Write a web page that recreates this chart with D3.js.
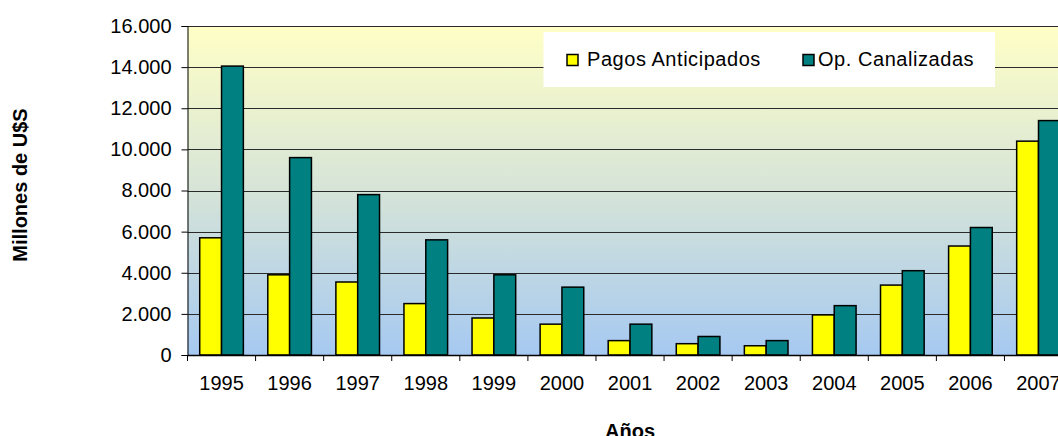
<!DOCTYPE html>
<html>
<head>
<meta charset="utf-8">
<script src="https://cdn.jsdelivr.net/npm/d3@7"></script>
<style>
  body { margin: 0; background: #fff; }
  svg { display: block; font-family: Arial, "Liberation Sans", sans-serif; }
</style>
</head>
<body>
<div id="chart"></div>
<script>
var years = ['1995', '1996', '1997', '1998', '1999', '2000', '2001', '2002', '2003', '2004', '2005', '2006', '2007'];
var pagosAnticipados = [5700, 3900, 3550, 2500, 1800, 1500, 700, 550, 450, 1950, 3400, 5300, 10400];
var opCanalizadas = [14050, 9600, 7800, 5600, 3900, 3300, 1500, 900, 700, 2400, 4100, 6200, 11400];
var seriesNames = ['Pagos Anticipados', 'Op. Canalizadas'];
var seriesColors = ['#ffff00', '#008080'];
var yTicks = [0, 2000, 4000, 6000, 8000, 10000, 12000, 14000, 16000];

var width = 1058, height = 436;
var plot = {left: 187.5, top: 26, bottom: 355, band: 68.08};

var svg = d3.select('#chart').append('svg')
    .attr('width', width)
    .attr('height', height);

var defs = svg.append('defs');
var grad = defs.append('linearGradient')
    .attr('id', 'bg')
    .attr('x1', 0).attr('y1', 0).attr('x2', 0).attr('y2', 1);
grad.append('stop').attr('offset', '0%').attr('stop-color', '#ffffc6');
grad.append('stop').attr('offset', '50%').attr('stop-color', '#d6e4d8');
grad.append('stop').attr('offset', '100%').attr('stop-color', '#a6c9f1');

var x0 = d3.scaleBand()
    .domain(years)
    .range([plot.left, plot.left + plot.band * years.length])
    .paddingInner(0);

var x1 = d3.scaleBand()
    .domain(seriesNames)
    .range([0, x0.bandwidth()])
    .paddingInner(0)
    .paddingOuter(0.56);

var y = d3.scaleLinear()
    .domain([0, 16000])
    .range([plot.bottom, plot.top]);

var fmt = d3.formatLocale({decimal: ',', thousands: '.', grouping: [3], currency: ['$', '']}).format(',d');

// plot background
svg.append('rect')
    .attr('x', plot.left)
    .attr('y', plot.top)
    .attr('width', x0.range()[1] - plot.left)
    .attr('height', plot.bottom - plot.top)
    .attr('fill', 'url(#bg)');

// gridlines
svg.append('g')
    .selectAll('line')
    .data(yTicks.filter(function(d) { return d > 0; }))
    .enter().append('line')
    .attr('x1', plot.left)
    .attr('x2', x0.range()[1])
    .attr('y1', function(d) { return Math.round(y(d)) + 0.5; })
    .attr('y2', function(d) { return Math.round(y(d)) + 0.5; })
    .attr('stroke', '#2a2a2a')
    .attr('stroke-width', 1);

// bars
var groups = svg.append('g')
    .selectAll('g')
    .data(years)
    .enter().append('g')
    .attr('transform', function(d) { return 'translate(' + x0(d) + ',0)'; });

groups.selectAll('rect')
    .data(function(d, i) {
        return [
            {name: seriesNames[0], value: pagosAnticipados[i], color: seriesColors[0]},
            {name: seriesNames[1], value: opCanalizadas[i], color: seriesColors[1]}
        ];
    })
    .enter().append('rect')
    .attr('x', function(d) { return x1(d.name); })
    .attr('width', x1.bandwidth())
    .attr('y', function(d) { return y(d.value); })
    .attr('height', function(d) { return plot.bottom - y(d.value); })
    .attr('fill', function(d) { return d.color; })
    .attr('stroke', '#000')
    .attr('stroke-width', 1.5);

// y axis
var yAxis = svg.append('g')
    .attr('transform', 'translate(' + plot.left + ',0)')
    .call(d3.axisLeft(y).tickValues(yTicks).tickFormat(fmt).tickSize(6).tickPadding(10));
yAxis.select('.domain').attr('stroke', '#000');
yAxis.selectAll('.tick line').attr('stroke', '#000');
yAxis.selectAll('text')
    .attr('font-size', '20px')
    .attr('font-family', 'Arial, "Liberation Sans", sans-serif')
    .attr('fill', '#000');

// x axis
var xAxis = svg.append('g')
    .attr('transform', 'translate(0,' + plot.bottom + ')')
    .call(d3.axisBottom(x0).tickSize(0).tickPadding(21));
xAxis.select('.domain').attr('stroke', '#000').attr('stroke-width', 1.5);
xAxis.selectAll('text')
    .attr('font-size', '20px')
    .attr('font-family', 'Arial, "Liberation Sans", sans-serif')
    .attr('fill', '#000');

// tick marks between categories
svg.append('g')
    .selectAll('line')
    .data(years)
    .enter().append('line')
    .attr('x1', function(d) { return x0(d); })
    .attr('x2', function(d) { return x0(d); })
    .attr('y1', plot.bottom)
    .attr('y2', plot.bottom + 6)
    .attr('stroke', '#000');

// axis titles
svg.append('text')
    .attr('transform', 'translate(27,185) rotate(-90)')
    .attr('text-anchor', 'middle')
    .attr('font-size', '20px')
    .attr('font-weight', 'bold')
    .text('Millones de U$S');

svg.append('text')
    .attr('x', 630)
    .attr('y', 438)
    .attr('text-anchor', 'middle')
    .attr('font-size', '20px')
    .attr('font-weight', 'bold')
    .text('Años');

// legend
var legend = svg.append('g');
legend.append('rect')
    .attr('x', 543.5)
    .attr('y', 32)
    .attr('width', 451.5)
    .attr('height', 55)
    .attr('fill', '#fff');

var legendX = [566.5, 802.5];
var item = legend.selectAll('g')
    .data(seriesNames)
    .enter().append('g')
    .attr('transform', function(d, i) { return 'translate(' + legendX[i] + ',0)'; });

item.append('rect')
    .attr('x', 0.5)
    .attr('y', 54.5)
    .attr('width', 11)
    .attr('height', 11)
    .attr('fill', function(d, i) { return seriesColors[i]; })
    .attr('stroke', '#000')
    .attr('stroke-width', 1.5);

item.append('text')
    .attr('x', function(d, i) { return i === 0 ? 20.5 : 15.5; })
    .attr('y', 65.5)
    .attr('font-size', '20px')
    .attr('letter-spacing', '0.55px')
    .text(function(d) { return d; });
</script>
</body>
</html>
